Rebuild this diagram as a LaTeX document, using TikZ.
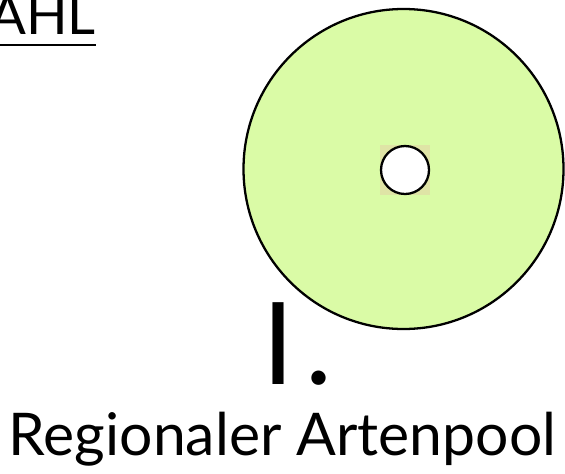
\documentclass[tikz,border=0pt]{standalone}
\usepackage{fontspec}
\setmainfont{Lato}
\usepackage{tikz}

\definecolor{poolgreen}{RGB}{218,251,166}
\definecolor{plottan}{RGB}{223,228,166}

\begin{document}
\begin{tikzpicture}
    \useasboundingbox (0, 0) rectangle (11.3, 9.46);

    % heading, cut at the left edge
    \node[anchor=base east, inner sep=0pt, font=\fontsize{31}{36}\selectfont] (head) at (1.92, 8.76) {AHL};
    \coordinate (ulstart) at (-0.2, 8.56);
    \coordinate (ulend) at (1.92, 8.56);
    \draw[line width=0.6pt] (ulstart) -- (ulend);

    % regional pool
    \node[draw=black, line width=1.3pt, fill=poolgreen, circle, minimum size=6.4cm, inner sep=0pt] (pool) at (8.07, 6.08) {};

    % plot in the middle
    \fill[plottan] (7.6, 5.56) rectangle (8.6, 6.56);
    \node[draw=black, line width=1.3pt, fill=white, circle, minimum size=0.96cm, inner sep=0pt] (plot) at (8.1, 6.06) {};

    % number
    \node[anchor=base west, inner sep=0pt, font=\fontsize{65}{70}\selectfont] (num) at (5.25, 1.78) {I\kern6pt.};

    % label
    \node[anchor=base, inner sep=0pt, font=\fontsize{33.5}{38}\selectfont] (label) at (5.65, 0.36) {Regionaler Artenpool};
\end{tikzpicture}
\end{document}
